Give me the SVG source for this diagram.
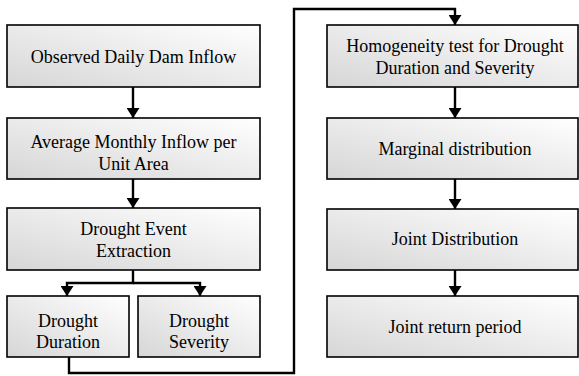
<svg xmlns="http://www.w3.org/2000/svg" width="579" height="376" viewBox="0 0 579 376">
<defs>
<linearGradient id="g" x1="1" y1="0" x2="0" y2="1">
<stop offset="0" stop-color="#ffffff"/>
<stop offset="1" stop-color="#d6d6d6"/>
</linearGradient>
<marker id="ah" markerUnits="userSpaceOnUse" markerWidth="10" markerHeight="13" refX="10" refY="6.5" orient="auto">
<path d="M0,0 L10,6.5 L0,13 Z" fill="#000"/>
</marker>
<style>
.box{fill:url(#g);stroke:#000;stroke-width:1.6}
.t{font-family:'Liberation Serif','DejaVu Serif',serif;font-size:18px;fill:#000;text-anchor:middle}
.c{fill:none;stroke:#000;stroke-width:2.4}
</style>
</defs>
<rect width="579" height="376" fill="#fff"/>
<g id="n1"><rect class="box" x="7" y="25" width="253" height="62"/><text class="t" x="133.5" y="63">Observed Daily Dam Inflow</text></g>
<g id="n2"><rect class="box" x="7" y="118" width="253" height="61"/><text class="t" x="133.5" y="148">Average Monthly Inflow per</text><text class="t" x="133.5" y="170">Unit Area</text></g>
<g id="n3"><rect class="box" x="7" y="208" width="253" height="62"/><text class="t" x="133.5" y="235">Drought Event</text><text class="t" x="133.5" y="257">Extraction</text></g>
<g id="n4"><rect class="box" x="7" y="296" width="122" height="61"/><text class="t" x="68" y="327">Drought</text><text class="t" x="68" y="348">Duration</text></g>
<g id="n5"><rect class="box" x="138" y="296" width="122" height="61"/><text class="t" x="199" y="327">Drought</text><text class="t" x="199" y="348">Severity</text></g>
<g id="n6"><rect class="box" x="327" y="25" width="251" height="62"/><text class="t" x="455" y="52">Homogeneity test for Drought</text><text class="t" x="455" y="74">Duration and Severity</text></g>
<g id="n7"><rect class="box" x="327" y="118" width="251" height="61"/><text class="t" x="455" y="155">Marginal distribution</text></g>
<g id="n8"><rect class="box" x="327" y="209" width="251" height="61"/><text class="t" x="455" y="245">Joint Distribution</text></g>
<g id="n9"><rect class="box" x="327" y="296" width="251" height="61"/><text class="t" x="455" y="333">Joint return period</text></g>
<g id="connectors">
<path class="c" d="M133,87 V118" marker-end="url(#ah)"/>
<path class="c" d="M133,179 V208" marker-end="url(#ah)"/>
<path class="c" d="M133,270 V283 H67 V296" marker-end="url(#ah)"/>
<path class="c" d="M133,283 H200 V296" marker-end="url(#ah)"/>
<path class="c" d="M69,357 V373 H294 V9 H455 V25" marker-end="url(#ah)"/>
<path class="c" d="M455,87 V118" marker-end="url(#ah)"/>
<path class="c" d="M455,179 V209" marker-end="url(#ah)"/>
<path class="c" d="M455,270 V296" marker-end="url(#ah)"/>
</g>
</svg>
